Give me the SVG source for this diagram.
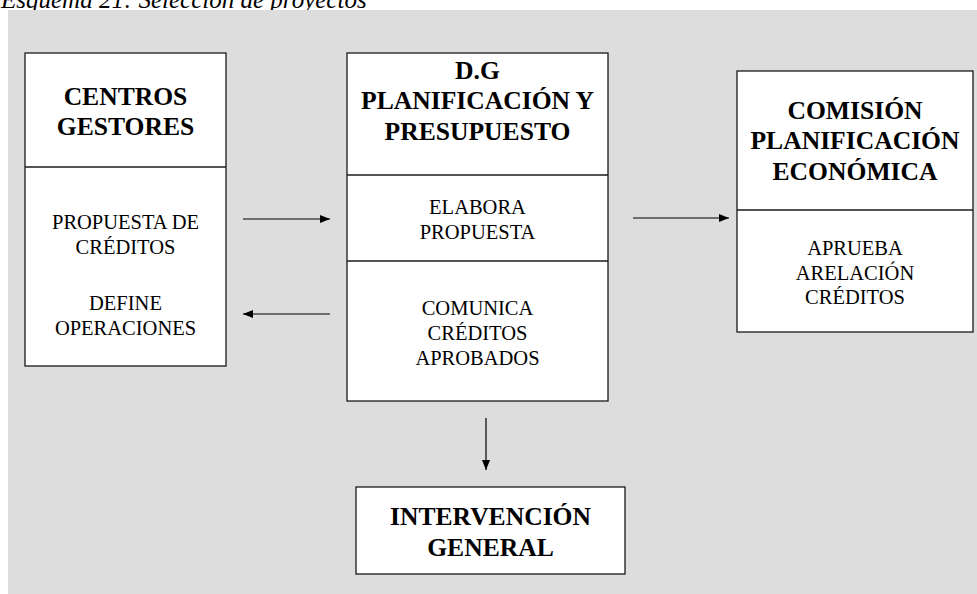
<svg xmlns="http://www.w3.org/2000/svg" width="977" height="594" viewBox="0 0 977 594">
<style>
.box{fill:#fff;stroke:#1a1a1a;stroke-width:1.3}
.div{stroke:#1a1a1a;stroke-width:1.3;fill:none}
.b{font-family:"Liberation Serif","Times New Roman",serif;font-weight:bold;font-size:25.6px;fill:#000;text-anchor:middle}
.r{font-family:"Liberation Serif","Times New Roman",serif;font-size:20.5px;fill:#000;text-anchor:middle}
.t{font-family:"Liberation Serif","Times New Roman",serif;font-style:italic;font-size:25px;fill:#000}
.c{stroke:#000;stroke-width:1.2;fill:none;marker-end:url(#ah)}
</style>
<defs>
<marker id="ah" viewBox="0 0 10 8" refX="10" refY="4" markerWidth="10" markerHeight="8" markerUnits="userSpaceOnUse" orient="auto">
<path d="M0,0 L10,4 L0,8 Z" fill="#000"/>
</marker>
</defs>
<rect width="977" height="594" fill="#fff"/>
<text class="t" x="1" y="8">Esquema 21: Selección de proyectos</text>
<rect x="8" y="10" width="969" height="584" fill="#dddddd"/>

<g id="centros">
<rect class="box" x="25" y="53" width="201" height="313"/>
<line class="div" x1="25" y1="167" x2="226" y2="167"/>
<text class="b" x="125.5" y="104.5">CENTROS</text>
<text class="b" x="125.5" y="134.5">GESTORES</text>
<text class="r" x="125.5" y="229">PROPUESTA DE</text>
<text class="r" x="125.5" y="254">CRÉDITOS</text>
<text class="r" x="125.5" y="310">DEFINE</text>
<text class="r" x="125.5" y="335">OPERACIONES</text>
</g>

<g id="dgpp">
<rect class="box" x="347" y="53" width="261" height="348"/>
<line class="div" x1="347" y1="175" x2="608" y2="175"/>
<line class="div" x1="347" y1="261" x2="608" y2="261"/>
<text class="b" x="477.5" y="78.5">D.G</text>
<text class="b" x="477.5" y="109">PLANIFICACIÓN Y</text>
<text class="b" x="477.5" y="140">PRESUPUESTO</text>
<text class="r" x="477.5" y="214">ELABORA</text>
<text class="r" x="477.5" y="239">PROPUESTA</text>
<text class="r" x="477.5" y="315">COMUNICA</text>
<text class="r" x="477.5" y="340">CRÉDITOS</text>
<text class="r" x="477.5" y="365">APROBADOS</text>
</g>

<g id="comision">
<rect class="box" x="737" y="71" width="236" height="261"/>
<line class="div" x1="737" y1="210" x2="973" y2="210"/>
<text class="b" x="855" y="118.5">COMISIÓN</text>
<text class="b" x="855" y="149">PLANIFICACIÓN</text>
<text class="b" x="855" y="180">ECONÓMICA</text>
<text class="r" x="855" y="255">APRUEBA</text>
<text class="r" x="855" y="279.5">ARELACIÓN</text>
<text class="r" x="855" y="304">CRÉDITOS</text>
</g>

<g id="intervencion">
<rect class="box" x="356" y="487" width="269" height="87"/>
<text class="b" x="490.5" y="525">INTERVENCIÓN</text>
<text class="b" x="490.5" y="556">GENERAL</text>
</g>

<g id="connectors">
<line class="c" x1="243" y1="219" x2="330" y2="219"/>
<line class="c" x1="330" y1="314" x2="243" y2="314"/>
<line class="c" x1="633" y1="218" x2="729" y2="218"/>
<line class="c" x1="486" y1="418" x2="486" y2="470"/>
</g>
</svg>
